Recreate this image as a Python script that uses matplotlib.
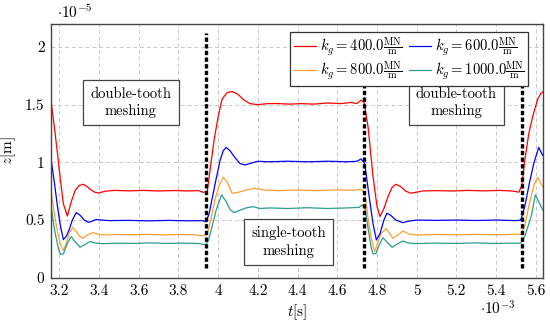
import matplotlib
matplotlib.use("Agg")
import matplotlib.pyplot as plt
from matplotlib.ticker import MultipleLocator, FuncFormatter

plt.rcParams['font.family'] = ['cmr10', 'DejaVu Serif']
plt.rcParams['mathtext.fontset'] = 'cm'
plt.rcParams['axes.formatter.use_mathtext'] = True

# time in 1e-3 s, displacement in 1e-5 m
t_400 = [3.16, 3.175, 3.19, 3.205, 3.22, 3.24, 3.26, 3.28, 3.30, 3.32, 3.34, 3.36, 3.38, 3.40, 3.43, 3.48,
         3.55, 3.62, 3.70, 3.78, 3.85, 3.90, 3.925, 3.945, 3.96, 3.98, 4.00, 4.02, 4.045, 4.07, 4.10, 4.13,
         4.16, 4.20, 4.25, 4.30, 4.36, 4.42, 4.48, 4.55, 4.62, 4.67, 4.70, 4.72, 4.735, 4.755, 4.78, 4.80,
         4.815, 4.835, 4.855, 4.875, 4.895, 4.92, 4.945, 4.97, 4.995, 5.03, 5.10, 5.18, 5.26, 5.34, 5.42,
         5.48, 5.515, 5.53, 5.545, 5.565, 5.585, 5.61, 5.627, 5.635]
z_400 = [1.50, 1.30, 1.08, 0.85, 0.64, 0.535, 0.66, 0.76, 0.80, 0.81, 0.79, 0.76, 0.74, 0.735, 0.75, 0.757,
         0.753, 0.757, 0.752, 0.756, 0.752, 0.755, 0.74, 0.75, 0.95, 1.20, 1.40, 1.55, 1.605, 1.615, 1.59, 1.54,
         1.51, 1.50, 1.51, 1.51, 1.505, 1.51, 1.505, 1.515, 1.51, 1.52, 1.51, 1.54, 1.52, 1.31, 0.88, 0.62,
         0.53, 0.60, 0.70, 0.78, 0.81, 0.79, 0.75, 0.733, 0.74, 0.752, 0.755, 0.752, 0.757, 0.753, 0.757,
         0.752, 0.742, 0.80, 1.02, 1.25, 1.40, 1.55, 1.60, 1.61]

t_600 = [3.16, 3.175, 3.19, 3.205, 3.22, 3.235, 3.25, 3.265, 3.285, 3.305, 3.325, 3.345, 3.365, 3.385, 3.41,
         3.45, 3.55, 3.65, 3.75, 3.85, 3.92, 3.94, 3.955, 3.97, 3.99, 4.01, 4.025, 4.04, 4.06, 4.085, 4.11,
         4.135, 4.16, 4.20, 4.25, 4.35, 4.45, 4.55, 4.65, 4.70, 4.72, 4.738, 4.763, 4.78, 4.797, 4.815, 4.835,
         4.85, 4.87, 4.895, 4.93, 4.96, 5.00, 5.10, 5.20, 5.30, 5.40, 5.50, 5.525, 5.545, 5.568, 5.59, 5.615,
         5.635]
z_600 = [1.00, 0.82, 0.62, 0.45, 0.33, 0.36, 0.42, 0.50, 0.565, 0.54, 0.50, 0.48, 0.49, 0.505, 0.50,
         0.495, 0.497, 0.493, 0.497, 0.493, 0.495, 0.485, 0.56, 0.69, 0.86, 1.02, 1.10, 1.13, 1.10, 1.04, 0.99,
         0.978, 0.99, 1.01, 1.005, 1.01, 1.005, 1.01, 1.005, 1.01, 1.03, 0.99, 0.675, 0.47, 0.327, 0.38, 0.50,
         0.559, 0.54, 0.50, 0.477, 0.49, 0.50, 0.497, 0.50, 0.496, 0.50, 0.495, 0.50, 0.62, 0.82, 0.99, 1.13,
         1.06]

t_800 = [3.16, 3.175, 3.19, 3.205, 3.22, 3.235, 3.25, 3.267, 3.285, 3.30, 3.318, 3.34, 3.368, 3.39, 3.42,
         3.48, 3.56, 3.64, 3.72, 3.80, 3.88, 3.925, 3.945, 3.965, 3.983, 4.005, 4.025, 4.045, 4.07, 4.10,
         4.14, 4.185, 4.23, 4.30, 4.40, 4.50, 4.60, 4.68, 4.72, 4.738, 4.755, 4.77, 4.788, 4.80, 4.82, 4.847,
         4.865, 4.88, 4.905, 4.931, 4.96, 5.00, 5.10, 5.20, 5.30, 5.40, 5.50, 5.525, 5.545, 5.568, 5.59, 5.61,
         5.635]
z_800 = [0.72, 0.55, 0.40, 0.29, 0.235, 0.30, 0.39, 0.434, 0.40, 0.36, 0.342, 0.37, 0.39, 0.38, 0.37,
         0.375, 0.372, 0.376, 0.371, 0.375, 0.372, 0.362, 0.38, 0.52, 0.675, 0.80, 0.871, 0.83, 0.733, 0.74,
         0.76, 0.776, 0.76, 0.755, 0.76, 0.755, 0.762, 0.758, 0.767, 0.733, 0.52, 0.356, 0.226, 0.28, 0.38, 0.428,
         0.38, 0.342, 0.37, 0.405, 0.38, 0.37, 0.375, 0.372, 0.376, 0.372, 0.377, 0.375, 0.45, 0.646, 0.80, 0.871,
         0.79]

t_1000 = [3.16, 3.175, 3.195, 3.205, 3.22, 3.24, 3.259, 3.28, 3.304, 3.33, 3.354, 3.38, 3.42, 3.50, 3.58,
          3.66, 3.74, 3.82, 3.90, 3.935, 3.95, 3.97, 3.99, 4.017, 4.04, 4.06, 4.08, 4.11, 4.14, 4.176, 4.21,
          4.26, 4.35, 4.45, 4.55, 4.65, 4.71, 4.725, 4.738, 4.755, 4.77, 4.78, 4.795, 4.81, 4.83, 4.855, 4.877,
          4.90, 4.93, 4.96, 5.00, 5.10, 5.20, 5.30, 5.40, 5.50, 5.525, 5.545, 5.577, 5.598, 5.615, 5.635]
z_1000 = [0.59, 0.42, 0.25, 0.203, 0.205, 0.30, 0.356, 0.31, 0.264, 0.29, 0.313, 0.30, 0.295, 0.30, 0.297,
          0.302, 0.297, 0.30, 0.297, 0.285, 0.32, 0.45, 0.588, 0.718, 0.66, 0.59, 0.564, 0.585, 0.605, 0.616, 0.60,
          0.605, 0.60, 0.607, 0.60, 0.605, 0.61, 0.63, 0.616, 0.43, 0.27, 0.205, 0.21, 0.28, 0.347, 0.30, 0.264,
          0.29, 0.318, 0.30, 0.296, 0.30, 0.297, 0.302, 0.297, 0.30, 0.298, 0.36, 0.53, 0.718, 0.66, 0.588]

switch_times = [3.94, 4.735, 5.53]

fig = plt.figure(figsize=(5.5, 3.21), dpi=100)
ax = fig.add_axes([0.0936, 0.1349, 0.8931, 0.7903])

frac = r'\frac{\mathrm{MN}}{\mathrm{m}}'
ax.plot(t_400, z_400, color='red', lw=0.9, label=r'$k_g = 400.0' + frac + '$')
ax.plot(t_800, z_800, color='#ffa030', lw=0.9, label=r'$k_g = 800.0' + frac + '$')
ax.plot(t_600, z_600, color='blue', lw=0.9, label=r'$k_g = 600.0' + frac + '$')
ax.plot(t_1000, z_1000, color='#2a9d8f', lw=0.9, label=r'$k_g = 1000.0' + frac + '$')

for ts in switch_times:
    ax.plot([ts, ts], [0.08, 2.12], color='black', lw=2.4, ls=(0, (1.3, 0.7)))

ax.set_xlim(3.16, 5.635)
ax.set_ylim(0, 2.2)
ax.xaxis.set_major_locator(MultipleLocator(0.2))
ax.yaxis.set_major_locator(MultipleLocator(0.5))
ax.xaxis.set_major_formatter(FuncFormatter(lambda v, p: '%g' % round(v, 2)))
ax.yaxis.set_major_formatter(FuncFormatter(lambda v, p: '%g' % round(v, 2)))
ax.grid(True, color='#c8c8c8', ls=(0, (4, 3)), lw=0.7)
ax.tick_params(length=0, labelsize=11, pad=5)
for s in ax.spines.values():
    s.set_color('#444444')
    s.set_linewidth(1.0)

ax.set_xlabel(r'$t$[s]', fontsize=11, labelpad=3)
ax.set_ylabel(r'$z$[m]', fontsize=11, labelpad=5)
fig.text(0.104, 0.963, r'$\cdot 10^{-5}$', fontsize=11, ha='left', va='center')
fig.text(0.872, 0.040, r'$\cdot 10^{-3}$', fontsize=11, ha='left', va='center')

box = dict(boxstyle='square,pad=0.5', fc='white', ec='#444444', lw=0.9)
ax.text(3.56, 1.52, 'double-tooth\nmeshing', ha='center', va='center', fontsize=10.5, bbox=box,
        linespacing=1.3)
ax.text(5.2, 1.52, 'double-tooth\nmeshing', ha='center', va='center', fontsize=10.5, bbox=box,
        linespacing=1.3)
ax.text(4.355, 0.31, 'single-tooth\nmeshing', ha='center', va='center', fontsize=10.5, bbox=box,
        linespacing=1.3)

leg = ax.legend(loc='upper right', ncol=2, fontsize=10.5, frameon=True, fancybox=False,
                edgecolor='#333333', framealpha=1, handlelength=1.5, columnspacing=0.5,
                handletextpad=0.25, labelspacing=0.1, borderpad=0.25, borderaxespad=0.3,
                bbox_to_anchor=(0.978, 0.985))
leg.get_frame().set_linewidth(0.9)

fig.savefig('out.png', dpi=100)
